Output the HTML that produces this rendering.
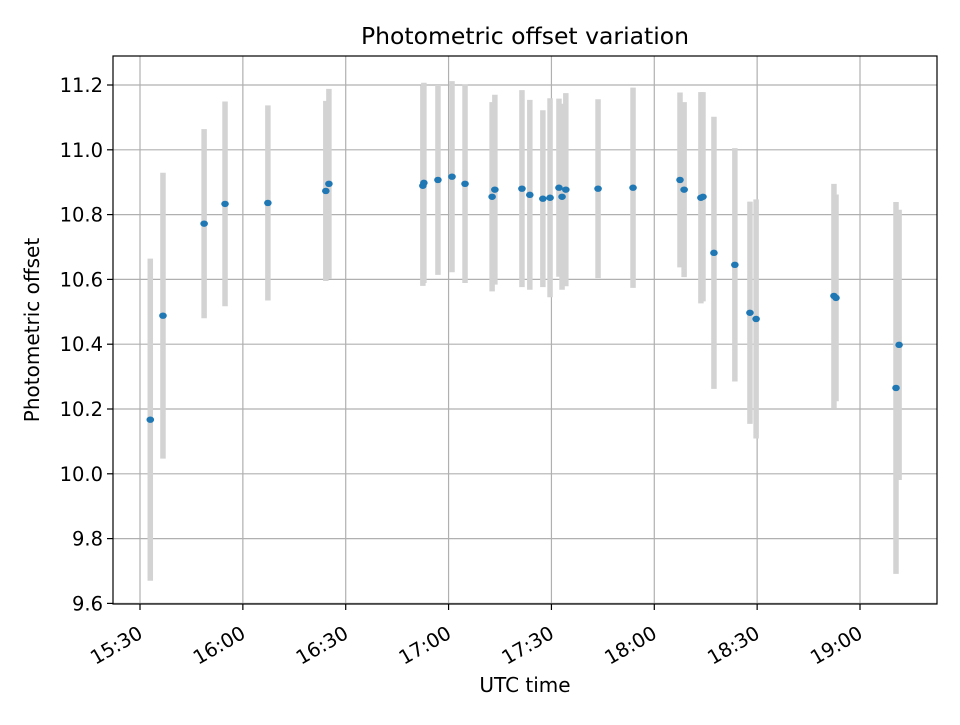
<!DOCTYPE html>
<html><head><meta charset="utf-8"><style>
body{margin:0;background:#fff}
svg text{font-family:"DejaVu Sans","Liberation Sans",sans-serif;fill:#000}
</style></head><body>
<svg id="chart" width="960" height="720" xmlns="http://www.w3.org/2000/svg">
<rect width="960" height="720" fill="#fff"/>
<g id="grid"></g>
<g id="errs"></g>
<g id="pts"></g>
<rect x="113" y="56" width="824" height="548" fill="none" stroke="#000" stroke-width="1.2"/>
<g id="ticks"></g>
<text x="525" y="44" text-anchor="middle" font-size="23.5">Photometric offset variation</text>
<text x="525" y="692" text-anchor="middle" font-size="20">UTC time</text>
<text x="39" y="330" text-anchor="middle" font-size="20" transform="rotate(-90 39 330)">Photometric offset</text>
</svg>
<script>
const times = ["15:33:00","15:36:42","15:48:42","15:54:48","16:07:18","16:24:12","16:25:06","16:52:30","16:52:48","16:56:54","17:01:00","17:04:48","17:12:42","17:13:30","17:21:24","17:23:42","17:27:30","17:29:36","17:32:12","17:33:06","17:34:12","17:43:36","17:53:48","18:07:30","18:08:42","18:13:36","18:14:12","18:17:24","18:23:30","18:27:54","18:29:42","18:52:24","18:53:00","19:10:30","19:11:24"];
const offsets = [10.167,10.488,10.772,10.833,10.836,10.873,10.895,10.889,10.898,10.907,10.917,10.895,10.855,10.877,10.880,10.861,10.849,10.852,10.883,10.855,10.877,10.880,10.883,10.907,10.877,10.852,10.855,10.682,10.645,10.497,10.478,10.549,10.543,10.265,10.398];
const errors = [0.497,0.441,0.292,0.316,0.301,0.278,0.293,0.309,0.309,0.293,0.295,0.306,0.292,0.293,0.304,0.293,0.273,0.307,0.275,0.287,0.298,0.276,0.309,0.270,0.270,0.326,0.323,0.420,0.360,0.343,0.369,0.346,0.319,0.574,0.417];
const yTicks = [9.6,9.8,10.0,10.2,10.4,10.6,10.8,11.0,11.2];
const xTicks = ["15:30","16:00","16:30","17:00","17:30","18:00","18:30","19:00"];

const NS="http://www.w3.org/2000/svg";
function toMin(s){const p=s.split(":").map(Number);return p[0]*60+p[1]+(p[2]||0)/60;}
const X0=113,X1=937,Y0=56,Y1=604;
const tMin=toMin("15:30")-27/3.4286, tMax=toMin("19:00")+77/3.4286;
const vMax=11.2+29/324, vRange=548/324;
function xs(m){return X0+(m-tMin)/(tMax-tMin)*(X1-X0);}
function ys(v){return Y1-(v-(vMax-vRange))/vRange*(Y1-Y0);}
function mk(tag,attrs,parent){const e=document.createElementNS(NS,tag);for(const k in attrs)e.setAttribute(k,attrs[k]);parent.appendChild(e);return e;}
const grid=document.getElementById('grid'),ticks=document.getElementById('ticks');
yTicks.forEach(v=>{const y=ys(v);
 const g=mk('line',{x1:X0,x2:X1,y1:y,y2:y,stroke:'#b0b0b0','stroke-width':1.2},grid);
 
 
 const t=mk('line',{x1:X0-6,x2:X0,y1:y,y2:y,stroke:'#000','stroke-width':1.2},ticks);
 
 
 const l=mk('text',{x:X0-10,y:y+7,'text-anchor':'end','font-size':19.5},ticks);l.textContent=v.toFixed(1);
 
 
});
xTicks.forEach(s=>{const x=xs(toMin(s));
 const g=mk('line',{x1:x,x2:x,y1:Y0,y2:Y1,stroke:'#b0b0b0','stroke-width':1.2},grid);
 
 
 const t=mk('line',{x1:x,x2:x,y1:Y1,y2:Y1+6,stroke:'#000','stroke-width':1.2},ticks);
 
 
 const ax=x+4,ay=637;
 const l=mk('text',{x:ax,y:ay,'text-anchor':'end','font-size':19.5,transform:`rotate(-30 ${ax} ${ay})`},ticks);l.textContent=s;
 
 
});
const errs=document.getElementById('errs'),pts=document.getElementById('pts');
times.forEach((s,i)=>{const x=xs(toMin(s));
 const e=mk('line',{x1:x,x2:x,y1:ys(offsets[i]+errors[i]),y2:ys(offsets[i]-errors[i]),stroke:'#d3d3d3','stroke-width':5.5},errs);
 
 
});
times.forEach((s,i)=>{const x=xs(toMin(s));
 const c=mk('ellipse',{cx:x,cy:ys(offsets[i]),rx:3.8,ry:3.2,fill:'#1f77b4'},pts);
 
 
});
</script>
</body></html>
